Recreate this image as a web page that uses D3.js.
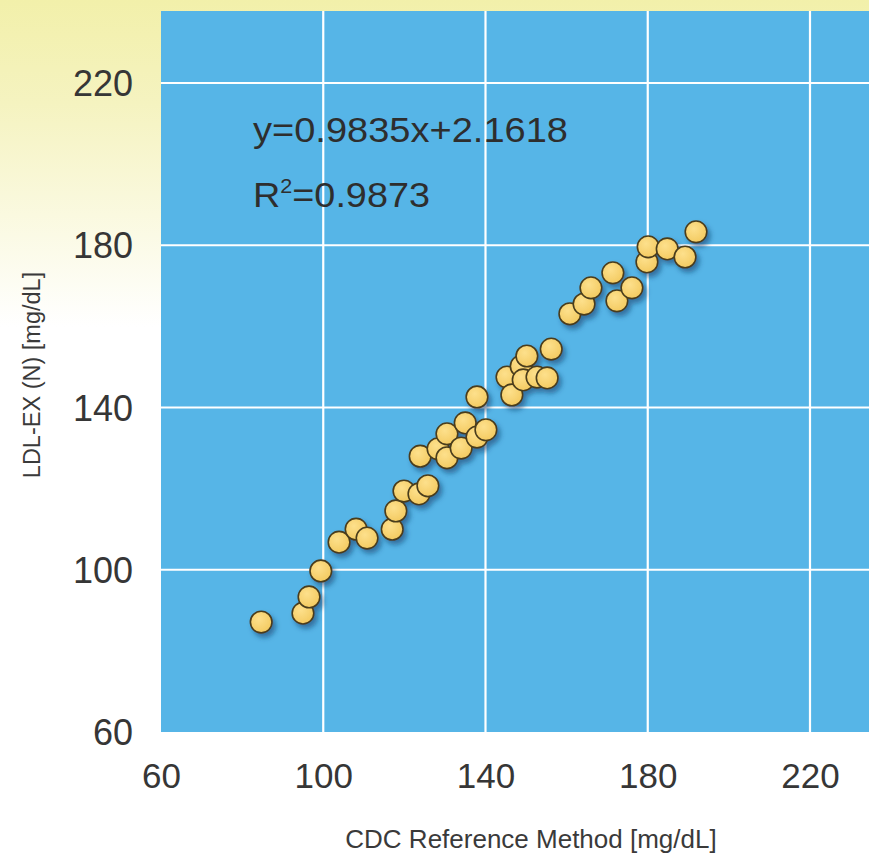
<!DOCTYPE html>
<html><head><meta charset="utf-8">
<script src="https://cdn.jsdelivr.net/npm/d3@7"></script>
<style>html,body{margin:0;padding:0;background:#fff;}svg{display:block;}</style>
</head><body>
<svg id="chart" width="869" height="860"></svg>
<script>
// Data (CDC Reference Method vs LDL-EX (N), mg/dL)
const xValues = [84.7,95.0,96.5,99.4,103.9,108.1,110.8,117.0,117.9,119.9,123.6,125.8,123.9,128.3,130.5,130.5,134.0,135.0,137.9,140.1,137.9,145.3,146.5,148.8,150.2,149.3,152.7,155.2,156.2,160.8,164.3,166.0,171.4,172.4,176.1,179.8,180.1,184.8,189.2,191.9];
const yValues = [87.1,89.3,93.3,99.7,106.8,110.0,107.8,110.0,114.5,119.4,118.7,120.7,128.0,129.8,127.6,133.5,130.0,136.2,132.7,134.5,142.6,147.5,143.1,150.2,152.7,146.8,147.5,147.3,154.4,163.1,165.5,169.5,173.2,166.3,169.5,175.9,179.6,179.1,177.1,183.3];
const xTicks = [60,100,140,180,220];
const yTicks = [60,100,140,180,220];
const equationText = "y=0.9835x+2.1618";
const r2Value = "0.9873";
const xTitle = "CDC Reference Method [mg/dL]";
const yTitle = "LDL-EX (N) [mg/dL]";

const W = 869, H = 860;
const svg = d3.select("#chart");
const defs = svg.append("defs");

const bg = defs.append("linearGradient").attr("id","bg").attr("x1",0).attr("y1",0).attr("x2",0).attr("y2",1);
bg.append("stop").attr("offset","0%").attr("stop-color","#f2f0aa");
bg.append("stop").attr("offset","12%").attr("stop-color","#f5f3c0");
bg.append("stop").attr("offset","38%").attr("stop-color","#ffffff");
bg.append("stop").attr("offset","100%").attr("stop-color","#ffffff");

const dot = defs.append("radialGradient").attr("id","dot").attr("cx","40%").attr("cy","35%").attr("r","70%");
dot.append("stop").attr("offset","0%").attr("stop-color","#fde08c");
dot.append("stop").attr("offset","100%").attr("stop-color","#f3c95e");

const sh = defs.append("filter").attr("id","shadow").attr("x","-50%").attr("y","-50%").attr("width","200%").attr("height","200%");
sh.append("feDropShadow").attr("dx",3).attr("dy",4).attr("stdDeviation",2.5)
  .attr("flood-color","#123a66").attr("flood-opacity",0.55);

svg.append("rect").attr("width",W).attr("height",H).attr("fill","url(#bg)");

const x = d3.scaleLinear().domain([60,220]).range([161,810]);
const y = d3.scaleLinear().domain([60,220]).range([732,83]);
const xMax = x.invert(W), yMax = y.invert(11);

// plot background
svg.append("rect")
  .attr("x", x(60)).attr("y", y(yMax))
  .attr("width", x(xMax)-x(60)).attr("height", y(60)-y(yMax))
  .attr("fill","#56b5e7");

// grid
const grid = svg.append("g").attr("stroke","#ffffff").attr("stroke-width",2.2);
grid.selectAll("line.v").data(xTicks.filter(d=>d>60)).join("line")
  .attr("x1",d=>x(d)).attr("x2",d=>x(d)).attr("y1",y(60)).attr("y2",y(yMax));
grid.selectAll("line.h").data(yTicks.filter(d=>d>60)).join("line")
  .attr("y1",d=>y(d)).attr("y2",d=>y(d)).attr("x1",x(60)).attr("x2",x(xMax));

// axes labels (D3 axes, no lines)
const font = "'Liberation Sans', Arial, Helvetica, sans-serif";
const yAxis = svg.append("g").attr("transform",`translate(${x(60)-28},0)`)
  .call(d3.axisLeft(y).tickValues(yTicks).tickSize(0).tickPadding(0).tickFormat(d3.format("d")));
yAxis.select(".domain").remove();
yAxis.selectAll("text").attr("font-family",font).attr("font-size",36).attr("fill","#363636").attr("dy","0.35em");

const xAxis = svg.append("g").attr("transform",`translate(0,${y(60)+56})`)
  .call(d3.axisBottom(x).tickValues(xTicks).tickSize(0).tickPadding(0).tickFormat(d3.format("d")));
xAxis.select(".domain").remove();
xAxis.selectAll("text").attr("font-family",font).attr("font-size",35).attr("fill","#363636").attr("dy",0);

// titles
svg.append("text").attr("x",531).attr("y",848).attr("text-anchor","middle")
  .attr("font-family",font).attr("font-size",26).attr("fill","#3a3a3a").text(xTitle);
svg.append("text").attr("transform","translate(40,375) rotate(-90)").attr("text-anchor","middle")
  .attr("font-family",font).attr("font-size",23.5).attr("fill","#3a3a3a").text(yTitle);

// annotation
svg.append("text").attr("x",253).attr("y",142)
  .attr("font-family",font).attr("font-size",35).attr("fill","#2e2e2e")
  .attr("textLength",315).attr("lengthAdjust","spacingAndGlyphs").text(equationText);
const r2 = svg.append("text").attr("transform","translate(253,207) scale(1.08,1)")
  .attr("font-family",font).attr("font-size",35).attr("fill","#2e2e2e");
r2.append("tspan").text("R");
r2.append("tspan").attr("font-size",20).attr("dy",-14).text("2");
r2.append("tspan").attr("dy",14).text("=" + r2Value);

// points
const pts = xValues.map((v,i)=>({x:v,y:yValues[i]}));
svg.append("g").attr("filter","url(#shadow)")
  .selectAll("circle").data(pts).join("circle")
  .attr("cx",d=>x(d.x)).attr("cy",d=>y(d.y)).attr("r",10.8)
  .attr("fill","url(#dot)").attr("stroke","#4a3c1c").attr("stroke-width",1.6);
</script>
</body></html>
